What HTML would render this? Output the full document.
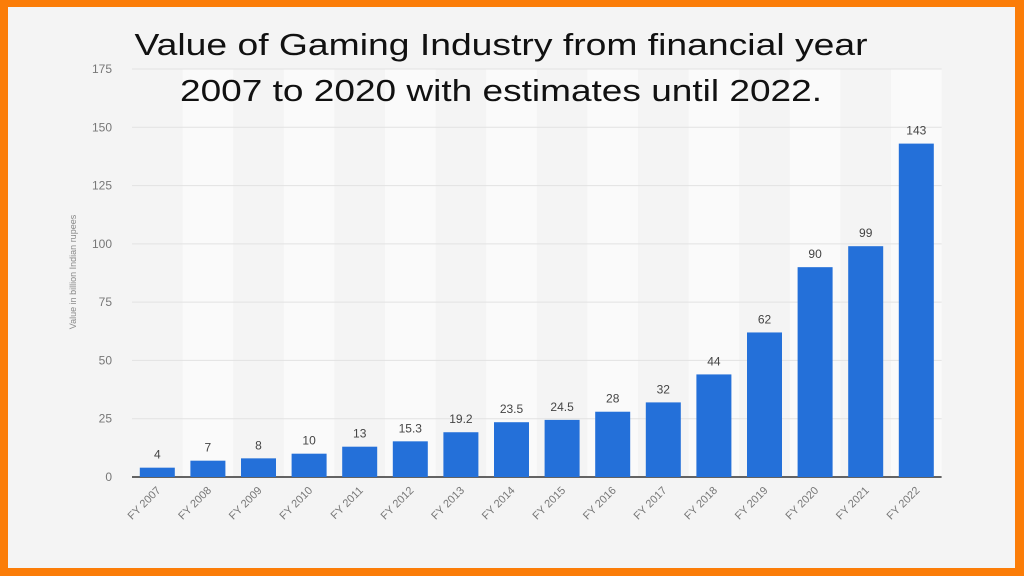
<!DOCTYPE html>
<html><head><meta charset="utf-8"><style>
html,body{margin:0;padding:0;background:#f80;}
svg{display:block;font-family:"Liberation Sans",sans-serif;}
</style></head><body>
<svg width="1024" height="576" xmlns="http://www.w3.org/2000/svg">
<rect x="0" y="0" width="1024" height="576" fill="#fb7d08"/>
<rect x="8" y="7" width="1007" height="561" fill="#f4f4f4"/>
<g id="bands"></g><g id="grid"></g><g id="bars"></g><g id="labels"></g>
<text x="501" y="55" font-size="31" fill="#111" text-anchor="middle" textLength="733" lengthAdjust="spacingAndGlyphs">Value of Gaming Industry from financial year</text>
<text x="501" y="101" font-size="31" fill="#111" text-anchor="middle" textLength="642" lengthAdjust="spacingAndGlyphs">2007 to 2020 with estimates until 2022.</text>
<text transform="translate(76,272) rotate(-90)" font-size="9" fill="#888" text-anchor="middle">Value in billion Indian rupees</text>
</svg>
<script>
const categories=["FY 2007","FY 2008","FY 2009","FY 2010","FY 2011","FY 2012","FY 2013","FY 2014","FY 2015","FY 2016","FY 2017","FY 2018","FY 2019","FY 2020","FY 2021","FY 2022"];
const values=[4,7,8,10,13,15.3,19.2,23.5,24.5,28,32,44,62,90,99,143];
const valueLabels=["4","7","8","10","13","15.3","19.2","23.5","24.5","28","32","44","62","90","99","143"];
const yTicks=[0,25,50,75,100,125,150,175];
const NS="http://www.w3.org/2000/svg";
const x0=132,step=50.6,barW=35,yZero=477,yTop=69,yMax=175;
const y=v=>yZero-(v/yMax)*(yZero-yTop);
const xc=i=>x0+step*(i+0.5);
function mk(tag,attrs,parent,text){const e=document.createElementNS(NS,tag);for(const k in attrs)e.setAttribute(k,attrs[k]);if(text!==undefined)e.textContent=text;document.getElementById(parent).appendChild(e);return e;}
categories.forEach((c,i)=>{if(i%2===1){const b=mk('rect',{x:xc(i)-step/2,y:yTop,width:step,height:yZero-yTop,fill:'#fafafa'},'bands');

}});
yTicks.forEach(t=>{if(t>0){const g=mk('line',{x1:x0,x2:x0+step*categories.length,y1:y(t),y2:y(t),stroke:'#e2e2e2','stroke-width':1},'grid');

}
const l=mk('text',{x:112,y:y(t)+4,'font-size':12,fill:'#777','text-anchor':'end'},'labels',String(t));

});
values.forEach((v,i)=>{const r=mk('rect',{x:xc(i)-barW/2,y:y(v),width:barW,height:yZero-y(v),fill:'#2470d9'},'bars');


const t=mk('text',{x:xc(i),y:y(v)-9,'font-size':12,fill:'#444','text-anchor':'middle'},'labels',valueLabels[i]);


const xl=mk('text',{transform:`translate(${xc(i)+4},${yZero+14}) rotate(-45)`,'font-size':11,fill:'#777','text-anchor':'end'},'labels',categories[i]);

});
const ax=mk('line',{x1:x0,x2:x0+step*categories.length,y1:yZero,y2:yZero,stroke:'#333','stroke-width':1.5},'grid');


</script>
</body></html>
